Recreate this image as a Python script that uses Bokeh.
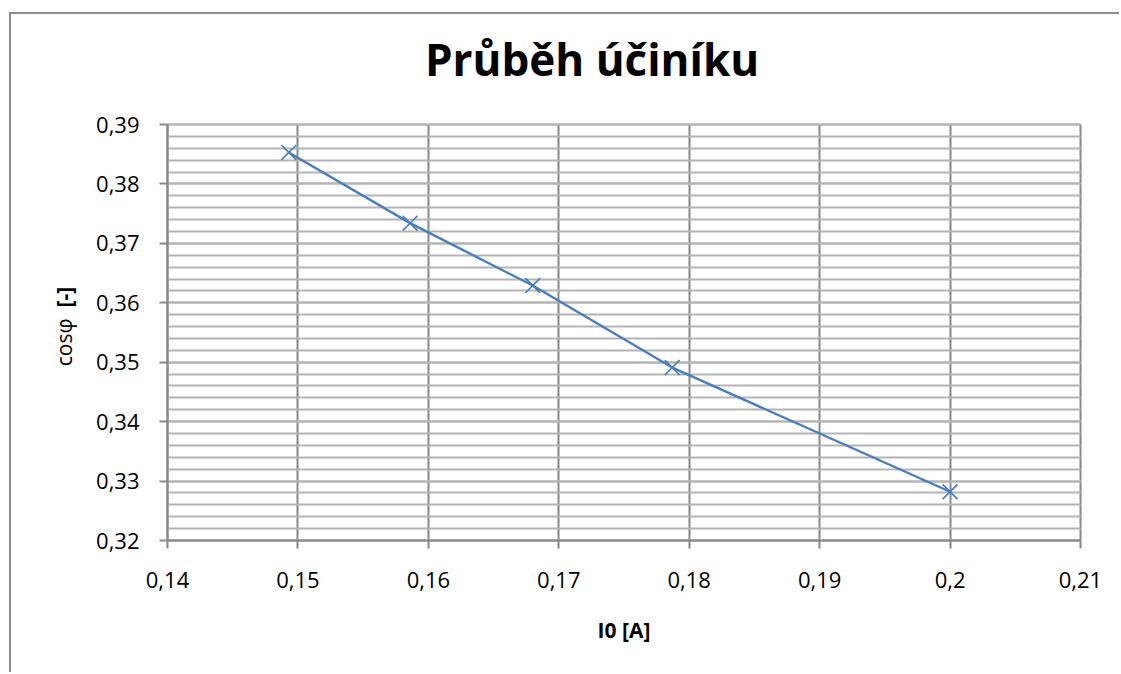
import math
from bokeh.plotting import figure
from bokeh.embed import file_html
from bokeh.resources import INLINE
from bokeh.models import FixedTicker, Range1d, Label

# data
current_a = [0.1493, 0.1586, 0.1680, 0.1787, 0.2000]
power_factor = [0.3853, 0.3734, 0.3629, 0.3491, 0.3282]

x_ticks = [0.14, 0.15, 0.16, 0.17, 0.18, 0.19, 0.20, 0.21]
x_tick_labels = ["0,14", "0,15", "0,16", "0,17", "0,18", "0,19", "0,2", "0,21"]
y_ticks = [0.32, 0.33, 0.34, 0.35, 0.36, 0.37, 0.38, 0.39]
y_tick_labels = ["0,32", "0,33", "0,34", "0,35", "0,36", "0,37", "0,38", "0,39"]
y_minor = [round(0.32 + 0.002 * i, 3) for i in range(36)]

title_text = "Průběh účiníku"
x_label = "I0 [A]"
y_label_main = "cosφ"
y_label_unit = "[-]"

X_MIN, X_MAX = 0.14, 0.21
Y_MIN, Y_MAX = 0.32, 0.39

FONT = "Open Sans"
GRID_DARK = "#878787"
GRID_LIGHT = "#b4b4b4"
LINE = "#4a7ebb"

# the frame fills the whole canvas; the chart area (0.14-0.21 x 0.32-0.39)
# sits inside it, leaving room for title and labels around it
p = figure(width=1110, height=660, output_backend="svg", toolbar_location=None,
           x_range=Range1d(0.128039, 0.213145), y_range=Range1d(0.297452, 0.408510),
           min_border_left=0, min_border_right=0, min_border_top=0, min_border_bottom=0)
p.margin = (12, 0, 0, 9)
p.styles = {"border-left": "2px solid #8c8c8c", "border-top": "2px solid #8c8c8c"}
p.outline_line_color = None

p.xaxis.fixed_location = Y_MIN
p.yaxis.fixed_location = X_MIN
p.xaxis.bounds = (X_MIN, X_MAX)
p.yaxis.bounds = (Y_MIN, Y_MAX)

p.xaxis.ticker = FixedTicker(ticks=x_ticks)
p.xaxis.major_label_overrides = dict(zip(x_ticks, x_tick_labels))
p.yaxis.ticker = FixedTicker(ticks=y_ticks, minor_ticks=y_minor)
p.yaxis.major_label_overrides = dict(zip(y_ticks, y_tick_labels))

for ax in (p.xaxis, p.yaxis):
    ax.axis_line_color = GRID_DARK
    ax.axis_line_width = 2
    ax.major_tick_line_color = GRID_DARK
    ax.major_tick_line_width = 2
    ax.major_tick_out = 8
    ax.major_tick_in = 0
    ax.minor_tick_out = 0
    ax.minor_tick_in = 0
    ax.major_label_text_font = FONT
    ax.major_label_text_font_size = "22px"
    ax.major_label_text_color = "black"
    ax.axis_label_text_font = FONT
    ax.axis_label_text_font_size = "21px"
    ax.axis_label_text_color = "black"

p.xaxis.axis_label = x_label
p.xaxis.axis_label_text_font_style = "bold"
p.xaxis.major_label_standoff = 23
p.xaxis.axis_label_standoff = 25
p.yaxis.major_label_standoff = 20

p.xgrid.grid_line_color = GRID_DARK
p.xgrid.grid_line_width = 2
p.ygrid.grid_line_color = GRID_LIGHT
p.ygrid.grid_line_width = 2
p.ygrid.minor_grid_line_color = GRID_LIGHT
p.ygrid.minor_grid_line_width = 2
p.xgrid.bounds = (X_MIN, X_MAX)
p.ygrid.bounds = (Y_MIN, Y_MAX)
try:
    p.xgrid.cross_bounds = (Y_MIN, Y_MAX)
    p.ygrid.cross_bounds = (X_MIN, X_MAX)
except AttributeError:
    p.xgrid.visible = False
    p.ygrid.visible = False
    p.segment(x0=x_ticks, y0=[Y_MIN] * len(x_ticks), x1=x_ticks, y1=[Y_MAX] * len(x_ticks),
              line_color=GRID_DARK, line_width=2, level="underlay")
    p.segment(x0=[X_MIN] * len(y_minor), y0=y_minor, x1=[X_MAX] * len(y_minor), y1=y_minor,
              line_color=GRID_LIGHT, line_width=2, level="underlay")

# title
p.add_layout(Label(x=0.17255, y=0.40094, text=title_text, text_align="center",
                   text_baseline="alphabetic", text_font=FONT, text_font_size="44px",
                   text_font_style="bold", text_color="black"))

# y-axis title: "cosφ" normal + "[-]" bold
p.add_layout(Label(x=0.13210, y=0.35736, text=y_label_main,
                   angle=math.pi / 2, text_align="right", text_baseline="middle",
                   text_font=FONT, text_font_size="21px", text_color="black"))
p.add_layout(Label(x=0.13210, y=0.35921, text=y_label_unit,
                   angle=math.pi / 2, text_align="left", text_baseline="middle",
                   text_font=FONT, text_font_size="21px", text_font_style="bold",
                   text_color="black"))

p.line(current_a, power_factor, line_color=LINE, line_width=2.4)
p.scatter(current_a, power_factor, marker="x", size=21, line_color=LINE, line_width=1.7)

open("out.html", "w").write(file_html(p, INLINE))
